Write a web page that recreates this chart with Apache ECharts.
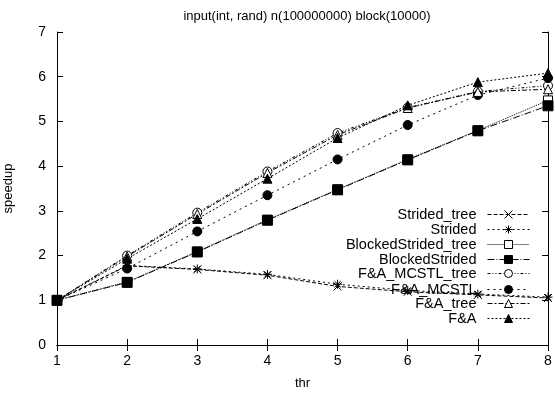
<!DOCTYPE html>
<html>
<head>
<meta charset="utf-8">
<script src="https://cdn.jsdelivr.net/npm/echarts@6/dist/echarts.min.js"></script>
<style>html,body{margin:0;padding:0;background:#fff}#c{width:555px;height:394px}</style>
</head>
<body>
<div id="c"></div>
<script>
var threads = [1, 2, 3, 4, 5, 6, 7, 8];
var xTicks = [1, 2, 3, 4, 5, 6, 7, 8];
var yTicks = [0, 1, 2, 3, 4, 5, 6, 7];
var seriesNames = ['Strided_tree', 'Strided', 'BlockedStrided_tree', 'BlockedStrided', 'F&A_MCSTL_tree', 'F&A_MCSTL', 'F&A_tree', 'F&A'];
var stridedTree = [1.0, 1.77, 1.69, 1.56, 1.31, 1.19, 1.12, 1.05];
var strided = [1.0, 1.78, 1.70, 1.58, 1.36, 1.22, 1.14, 1.07];
var blockedStridedTree = [1.0, 1.41, 2.09, 2.80, 3.48, 4.15, 4.80, 5.47];
var blockedStrided = [1.0, 1.40, 2.08, 2.79, 3.47, 4.14, 4.79, 5.35];
var faMcstlTree = [1.0, 2.0, 2.96, 3.88, 4.74, 5.31, 5.67, 5.80];
var faMcstl = [1.0, 1.71, 2.54, 3.35, 4.15, 4.92, 5.59, 5.97];
var faTree = [1.0, 1.98, 2.93, 3.85, 4.70, 5.30, 5.66, 5.72];
var fa = [1.0, 1.93, 2.82, 3.72, 4.63, 5.36, 5.88, 6.08];
var values = [stridedTree, strided, blockedStridedTree, blockedStrided, faMcstlTree, faMcstl, faTree, fa];

var crossPath = 'path://M0,0L10,10M10,0L0,10';
var starPath = 'path://M5,0L5,10M0,5L10,5M1.5,1.5L8.5,8.5M8.5,1.5L1.5,8.5';
var styles = [
  {symbol: crossPath, size: 8, fill: 'none', dash: [4, 2]},
  {symbol: starPath, size: 9, fill: 'none', dash: [2, 3]},
  {symbol: 'rect', size: 9, fill: '#fff', dash: [1, 1]},
  {symbol: 'rect', size: 10, fill: '#000', dash: [7, 2, 1, 2]},
  {symbol: 'circle', size: 9, fill: '#fff', dash: [3, 2, 1, 2, 1, 2]},
  {symbol: 'circle', size: 9, fill: '#000', dash: [2, 4]},
  {symbol: 'triangle', size: 9, fill: '#fff', dash: [5, 2, 2, 2]},
  {symbol: 'triangle', size: 9, fill: '#000', dash: [2, 2]}
];
var legendCenters = [212, 227, 242, 257, 271, 287, 301, 316];

var font = 'Liberation Sans, Arial, sans-serif';
var series = seriesNames.map(function (n, i) {
  var s = styles[i];
  return {
    name: n, type: 'line',
    data: threads.map(function (t, j) { return [t, values[i][j]]; }),
    symbol: s.symbol, symbolSize: s.size, showAllSymbol: true,
    lineStyle: {color: '#000', width: 1, type: s.dash},
    itemStyle: {color: s.fill === 'none' ? 'rgba(0,0,0,0)' : s.fill, borderColor: '#000', borderWidth: 1},
    emphasis: {disabled: true},
    animation: false, z: 3
  };
});
var legends = seriesNames.map(function (n, i) {
  return {
    data: [n], right: 25, top: legendCenters[i] - 5, align: 'right',
    itemWidth: 42, itemHeight: 10, padding: 0,
    lineStyle: {width: 1},
    itemStyle: {borderWidth: 1},
    textStyle: {fontFamily: font, fontSize: 14.5, color: '#000', padding: [0, 6, 0, 0]},
    selectedMode: false
  };
});
var axisCommon = {
  type: 'value', splitLine: {show: false},
  axisLine: {show: true, lineStyle: {color: '#000', width: 1}},
  axisTick: {show: true, inside: true, length: 6, lineStyle: {color: '#000'}},
  axisLabel: {fontFamily: font, fontSize: 14, color: '#000'}
};
var option = {
  backgroundColor: '#fff',
  animation: false,
  title: {text: 'input(int, rand) n(100000000) block(10000)', left: 302, top: 5, textAlign: 'center',
    textStyle: {fontFamily: font, fontSize: 13, fontWeight: 'normal', color: '#000'}},
  grid: {left: 57, right: 7, top: 32, bottom: 49, outerBoundsMode: 'none', containLabel: false},
  legend: legends,
  xAxis: [
    Object.assign({}, axisCommon, {min: 1, max: 8, interval: 1, name: 'thr', nameLocation: 'middle', nameGap: 32,
      nameTextStyle: {fontFamily: font, fontSize: 13, color: '#000'},
      axisLabel: {fontFamily: font, fontSize: 14, color: '#000', margin: 9}}),
    Object.assign({}, axisCommon, {min: 1, max: 8, interval: 1, position: 'top', axisLabel: {show: false}})
  ],
  yAxis: [
    Object.assign({}, axisCommon, {min: 0, max: 7, interval: 1, name: 'speedup', nameLocation: 'middle', nameGap: 42,
      nameTextStyle: {fontFamily: font, fontSize: 13, color: '#000'},
      axisLabel: {fontFamily: font, fontSize: 14, color: '#000', margin: 11}}),
    Object.assign({}, axisCommon, {min: 0, max: 7, interval: 1, position: 'right', axisLabel: {show: false}})
  ],
  series: series
};
var chart = echarts.init(document.getElementById('c'), null, {renderer: 'canvas'});
chart.setOption(option);
</script>
</body>
</html>
